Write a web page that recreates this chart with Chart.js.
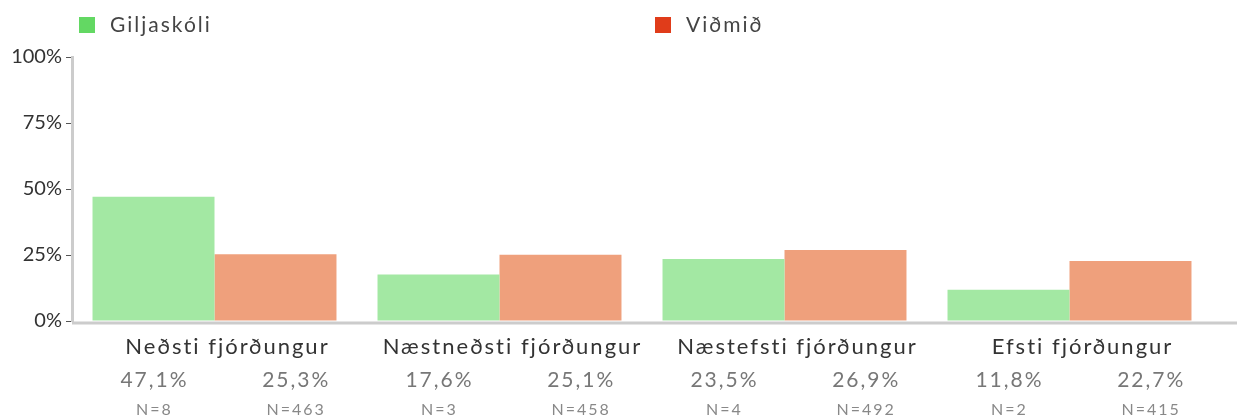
<!DOCTYPE html>
<html>
<head>
<meta charset="utf-8">
<script src="https://cdn.jsdelivr.net/npm/chart.js@4"></script>
<style>
  body { margin: 0; background: #fff; font-family: Lato, sans-serif; }
  #wrap { position: relative; width: 1247px; height: 419px; }
  .leg { position: absolute; top: 11px; font-size: 21px; letter-spacing: 2px; color: #444; }
  .leg span { display: inline-block; width: 16px; height: 16px; margin-right: 15px; vertical-align: -1px; }
</style>
</head>
<body>
<div id="wrap">
  <div class="leg" style="left:79px"><span style="background:#63d863"></span>Giljaskóli</div>
  <div class="leg" style="left:655px"><span style="background:#e03c1a"></span>Viðmið</div>
  <canvas id="chart" width="1247" height="419"></canvas>
</div>
<script>
// gögn
var flokkar = ["Neðsti fjórðungur", "Næstneðsti fjórðungur", "Næstefsti fjórðungur", "Efsti fjórðungur"];
var skoli = [47.1, 17.6, 23.5, 11.8];
var vidmid = [25.3, 25.1, 26.9, 22.7];
var skoliN = [8, 3, 4, 2];
var vidmidN = [463, 458, 492, 415];
var yTicks = [0, 25, 50, 75, 100];

function fmt(v) { return v.toFixed(1).replace(".", ",") + "%"; }

// texti undir ásnum
var undirTexti = {
    id: "undirTexti",
    afterDraw: function(chart) {
        var ctx = chart.ctx;
        var x = chart.scales.x;
        var bottom = chart.chartArea.bottom;
        ctx.save();
        ctx.letterSpacing = "2px";
        ctx.textAlign = "center";
        ctx.textBaseline = "middle";
        // grunnlína
        ctx.strokeStyle = "#cccccc";
        ctx.lineWidth = 3;
        ctx.beginPath();
        ctx.moveTo(chart.chartArea.left, bottom + 2);
        ctx.lineTo(chart.chartArea.right + 25, bottom + 2);
        ctx.stroke();

        flokkar.forEach(function(f, i) {
            ctx.fillStyle = "#333";
            ctx.font = "22px Lato";
            ctx.fillText(f, x.getPixelForValue(i) + 13, bottom + 26);
        });
        var nums = [skoliN, vidmidN];
        chart.data.datasets.forEach(function(ds, d) {
            chart.getDatasetMeta(d).data.forEach(function(bar, i) {
                var cx = bar.x + (d === 1 ? bar.width * 0.17 : 1);
                ctx.fillStyle = "#777";
                ctx.font = "21px Lato";
                ctx.fillText(fmt(ds.data[i]), cx, bottom + 59);
                ctx.fillStyle = "#888";
                ctx.font = "16px Lato";
                ctx.fillText("N=" + nums[d][i], cx, bottom + 89);
            });
        });
        ctx.restore();
    }
};

new Chart(document.getElementById("chart"), {
    type: "bar",
    data: {
        labels: flokkar,
        datasets: [{
            label: "Giljaskóli",
            data: skoli,
            backgroundColor: "#a3e8a3"
        }, {
            label: "Viðmið",
            data: vidmid,
            backgroundColor: "#efa07c"
        }]
    },
    options: {
        responsive: false,
        animation: false,
        layout: { padding: { top: 57, right: 35, bottom: 90, left: 0 } },
        plugins: {
            legend: { display: false },
            tooltip: { enabled: false }
        },
        datasets: {
            bar: { categoryPercentage: 0.856, barPercentage: 1.0 }
        },
        scales: {
            x: {
                ticks: { display: false },
                grid: { display: false },
                border: { display: false }
            },
            y: {
                min: 0,
                max: 100,
                afterFit: function(s) { s.width = 72; },
                afterBuildTicks: function(s) { s.ticks = yTicks.map(function(v) { return { value: v }; }); },
                ticks: {
                    callback: function(v) { return v + "%"; },
                    color: "#333",
                    font: { family: "Lato", size: 20 },
                    padding: 4
                },
                grid: {
                    drawOnChartArea: false,
                    drawTicks: true,
                    tickLength: 6,
                    tickColor: "#555",
                    tickWidth: 1
                },
                border: { color: "#cccccc", width: 3 }
            }
        }
    },
    plugins: [undirTexti]
});
</script>
</body>
</html>
